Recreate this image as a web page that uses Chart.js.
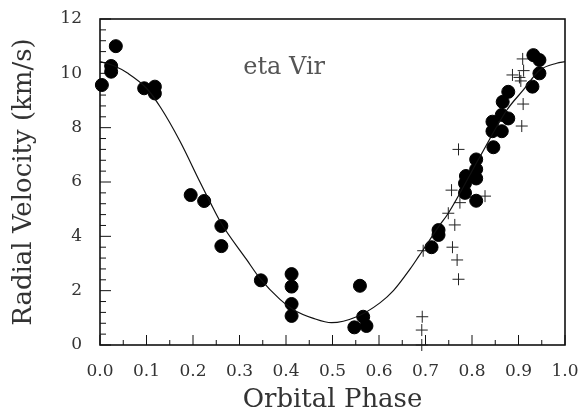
<!DOCTYPE html>
<html>
<head>
<meta charset="utf-8">
<script src="https://cdn.jsdelivr.net/npm/chart.js@4/dist/chart.umd.min.js"></script>
<style>
  html, body { margin: 0; padding: 0; background: #fff; }
  #wrap { width: 583px; height: 414px; }
</style>
</head>
<body>
<div id="wrap"><canvas id="myChart" width="583" height="414"></canvas></div>
<script>
// filled circles (measurements)
var circlePhase = [0.004, 0.024, 0.024, 0.034, 0.095, 0.118, 0.118, 0.195, 0.224, 0.261, 0.261,
    0.346, 0.412, 0.412, 0.412, 0.412, 0.547, 0.559, 0.566, 0.573,
    0.713, 0.728, 0.728, 0.785, 0.785, 0.787, 0.809, 0.809, 0.809, 0.809,
    0.846, 0.844, 0.864, 0.844, 0.864, 0.878, 0.866, 0.878, 0.930, 0.945, 0.945, 0.932];
var circleVel = [9.57, 10.06, 10.27, 11.0, 9.45, 9.51, 9.26, 5.52, 5.3, 4.38, 3.64,
    2.38, 2.61, 2.15, 1.51, 1.07, 0.65, 2.18, 1.04, 0.7,
    3.6, 4.05, 4.23, 5.6, 5.95, 6.22, 5.31, 6.13, 6.47, 6.83,
    7.28, 7.87, 7.87, 8.22, 8.47, 8.34, 8.95, 9.32, 9.51, 10.0, 10.49, 10.67];

// crosses (other measurements)
var plusPhase = [0.909, 0.911, 0.887, 0.902, 0.905, 0.910, 0.907, 0.771, 0.756, 0.774, 0.828,
    0.749, 0.763, 0.695, 0.758, 0.768, 0.771, 0.693, 0.692, 0.692];
var plusVel = [10.53, 10.1, 9.94, 9.85, 9.72, 8.87, 8.06, 7.2, 5.7, 5.24, 5.48,
    4.85, 4.42, 3.47, 3.6, 3.13, 2.42, 1.04, 0.55, 0.0];

// orbit fit curve
var fitPhase = [0, 0.03, 0.06, 0.1, 0.13, 0.172, 0.215, 0.237, 0.26, 0.315, 0.344, 0.387, 0.416,
    0.459, 0.498, 0.552, 0.602, 0.631, 0.667, 0.685, 0.728, 0.749, 0.817, 0.875, 0.91, 0.946, 0.982, 1.0];
var fitVel = [10.43, 10.28, 10.0, 9.45, 8.75, 7.5, 6.0, 5.25, 4.5, 3.15, 2.45, 1.68, 1.3,
    0.98, 0.82, 1.04, 1.55, 2.0, 2.8, 3.25, 4.35, 4.85, 6.93, 8.65, 9.38, 10.12, 10.37, 10.43];

var xMin = 0, xMax = 1, xStep = 0.1;
var yMin = 0, yMax = 12, yStep = 2;

function pts(xs, ys) {
    return xs.map(function (x, i) { return { x: x, y: ys[i] }; });
}

var serif = '"DejaVu Serif", "Liberation Serif", serif';
var ink = '#111';

// frame, inward ticks and the star name
var frameTicks = {
    id: 'frameTicks',
    beforeDatasetsDraw: function (chart) {
        var ctx = chart.ctx, a = chart.chartArea;
        var xs = chart.scales.x, ys = chart.scales.y;
        ctx.save();
        ctx.strokeStyle = ink;
        ctx.lineWidth = 1.6;
        ctx.strokeRect(a.left, a.top, a.right - a.left, a.bottom - a.top);
        ctx.lineWidth = 1;
        ctx.beginPath();
        var i, p, len;
        for (i = 0; i <= 30; i++) {
            p = ys.getPixelForValue(i * 0.4);
            len = (i % 5 === 0) ? 11 : 6;
            ctx.moveTo(a.left, p);
            ctx.lineTo(a.left + len, p);
        }
        for (i = 0; i <= 20; i++) {
            p = xs.getPixelForValue(i * 0.05);
            len = (i % 2 === 0) ? 10 : 5;
            ctx.moveTo(p, a.bottom);
            ctx.lineTo(p, a.bottom - len);
        }
        ctx.stroke();

        ctx.fillStyle = '#555';
        ctx.font = '24px ' + serif;
        ctx.textAlign = 'center';
        ctx.textBaseline = 'middle';
        ctx.fillText('eta Vir', xs.getPixelForValue(0.396), ys.getPixelForValue(10.2));
        ctx.restore();
    }
};

var ctx = document.getElementById('myChart').getContext('2d');

var myChart = new Chart(ctx, {
    type: 'scatter',
    data: {
        datasets: [{
            label: 'fit',
            type: 'line',
            data: pts(fitPhase, fitVel),
            borderColor: ink,
            borderWidth: 1.2,
            pointRadius: 0,
            fill: false,
            cubicInterpolationMode: 'monotone'
        }, {
            label: 'circles',
            data: pts(circlePhase, circleVel),
            backgroundColor: '#000',
            borderColor: '#000',
            pointRadius: 6.5,
            clip: false
        }, {
            label: 'crosses',
            data: pts(plusPhase, plusVel),
            pointStyle: 'cross',
            pointRadius: 6,
            borderColor: '#222',
            borderWidth: 1,
            clip: false
        }]
    },
    options: {
        responsive: false,
        animation: false,
        layout: { padding: { top: 19, right: 18, left: 0, bottom: 0 } },
        plugins: {
            legend: { display: false },
            tooltip: { enabled: false }
        },
        scales: {
            x: {
                type: 'linear',
                min: xMin,
                max: xMax,
                grid: { display: false, drawTicks: false },
                border: { display: false },
                ticks: {
                    stepSize: xStep,
                    padding: 16,
                    color: '#333',
                    font: { family: serif, size: 17 },
                    callback: function (v) { return v.toFixed(1); }
                },
                title: {
                    display: true,
                    text: 'Orbital Phase',
                    color: '#333',
                    font: { family: serif, size: 26 },
                    padding: { top: 0, bottom: -2 }
                },
                afterFit: function (s) {
                    s.height = 69;
                    s.paddingLeft = 0;
                    s.paddingRight = 0;
                }
            },
            y: {
                min: yMin,
                max: yMax,
                grid: { display: false, drawTicks: false },
                border: { display: false },
                ticks: {
                    stepSize: yStep,
                    padding: 18,
                    color: '#333',
                    font: { family: serif, size: 17 }
                },
                title: {
                    display: true,
                    text: 'Radial Velocity (km/s)',
                    color: '#333',
                    font: { family: serif, size: 26 },
                    padding: { top: 9, bottom: 0 }
                },
                afterFit: function (s) {
                    s.width = 100;
                    s.paddingTop = 0;
                    s.paddingBottom = 0;
                }
            }
        }
    },
    plugins: [frameTicks]
});
</script>
</body>
</html>
